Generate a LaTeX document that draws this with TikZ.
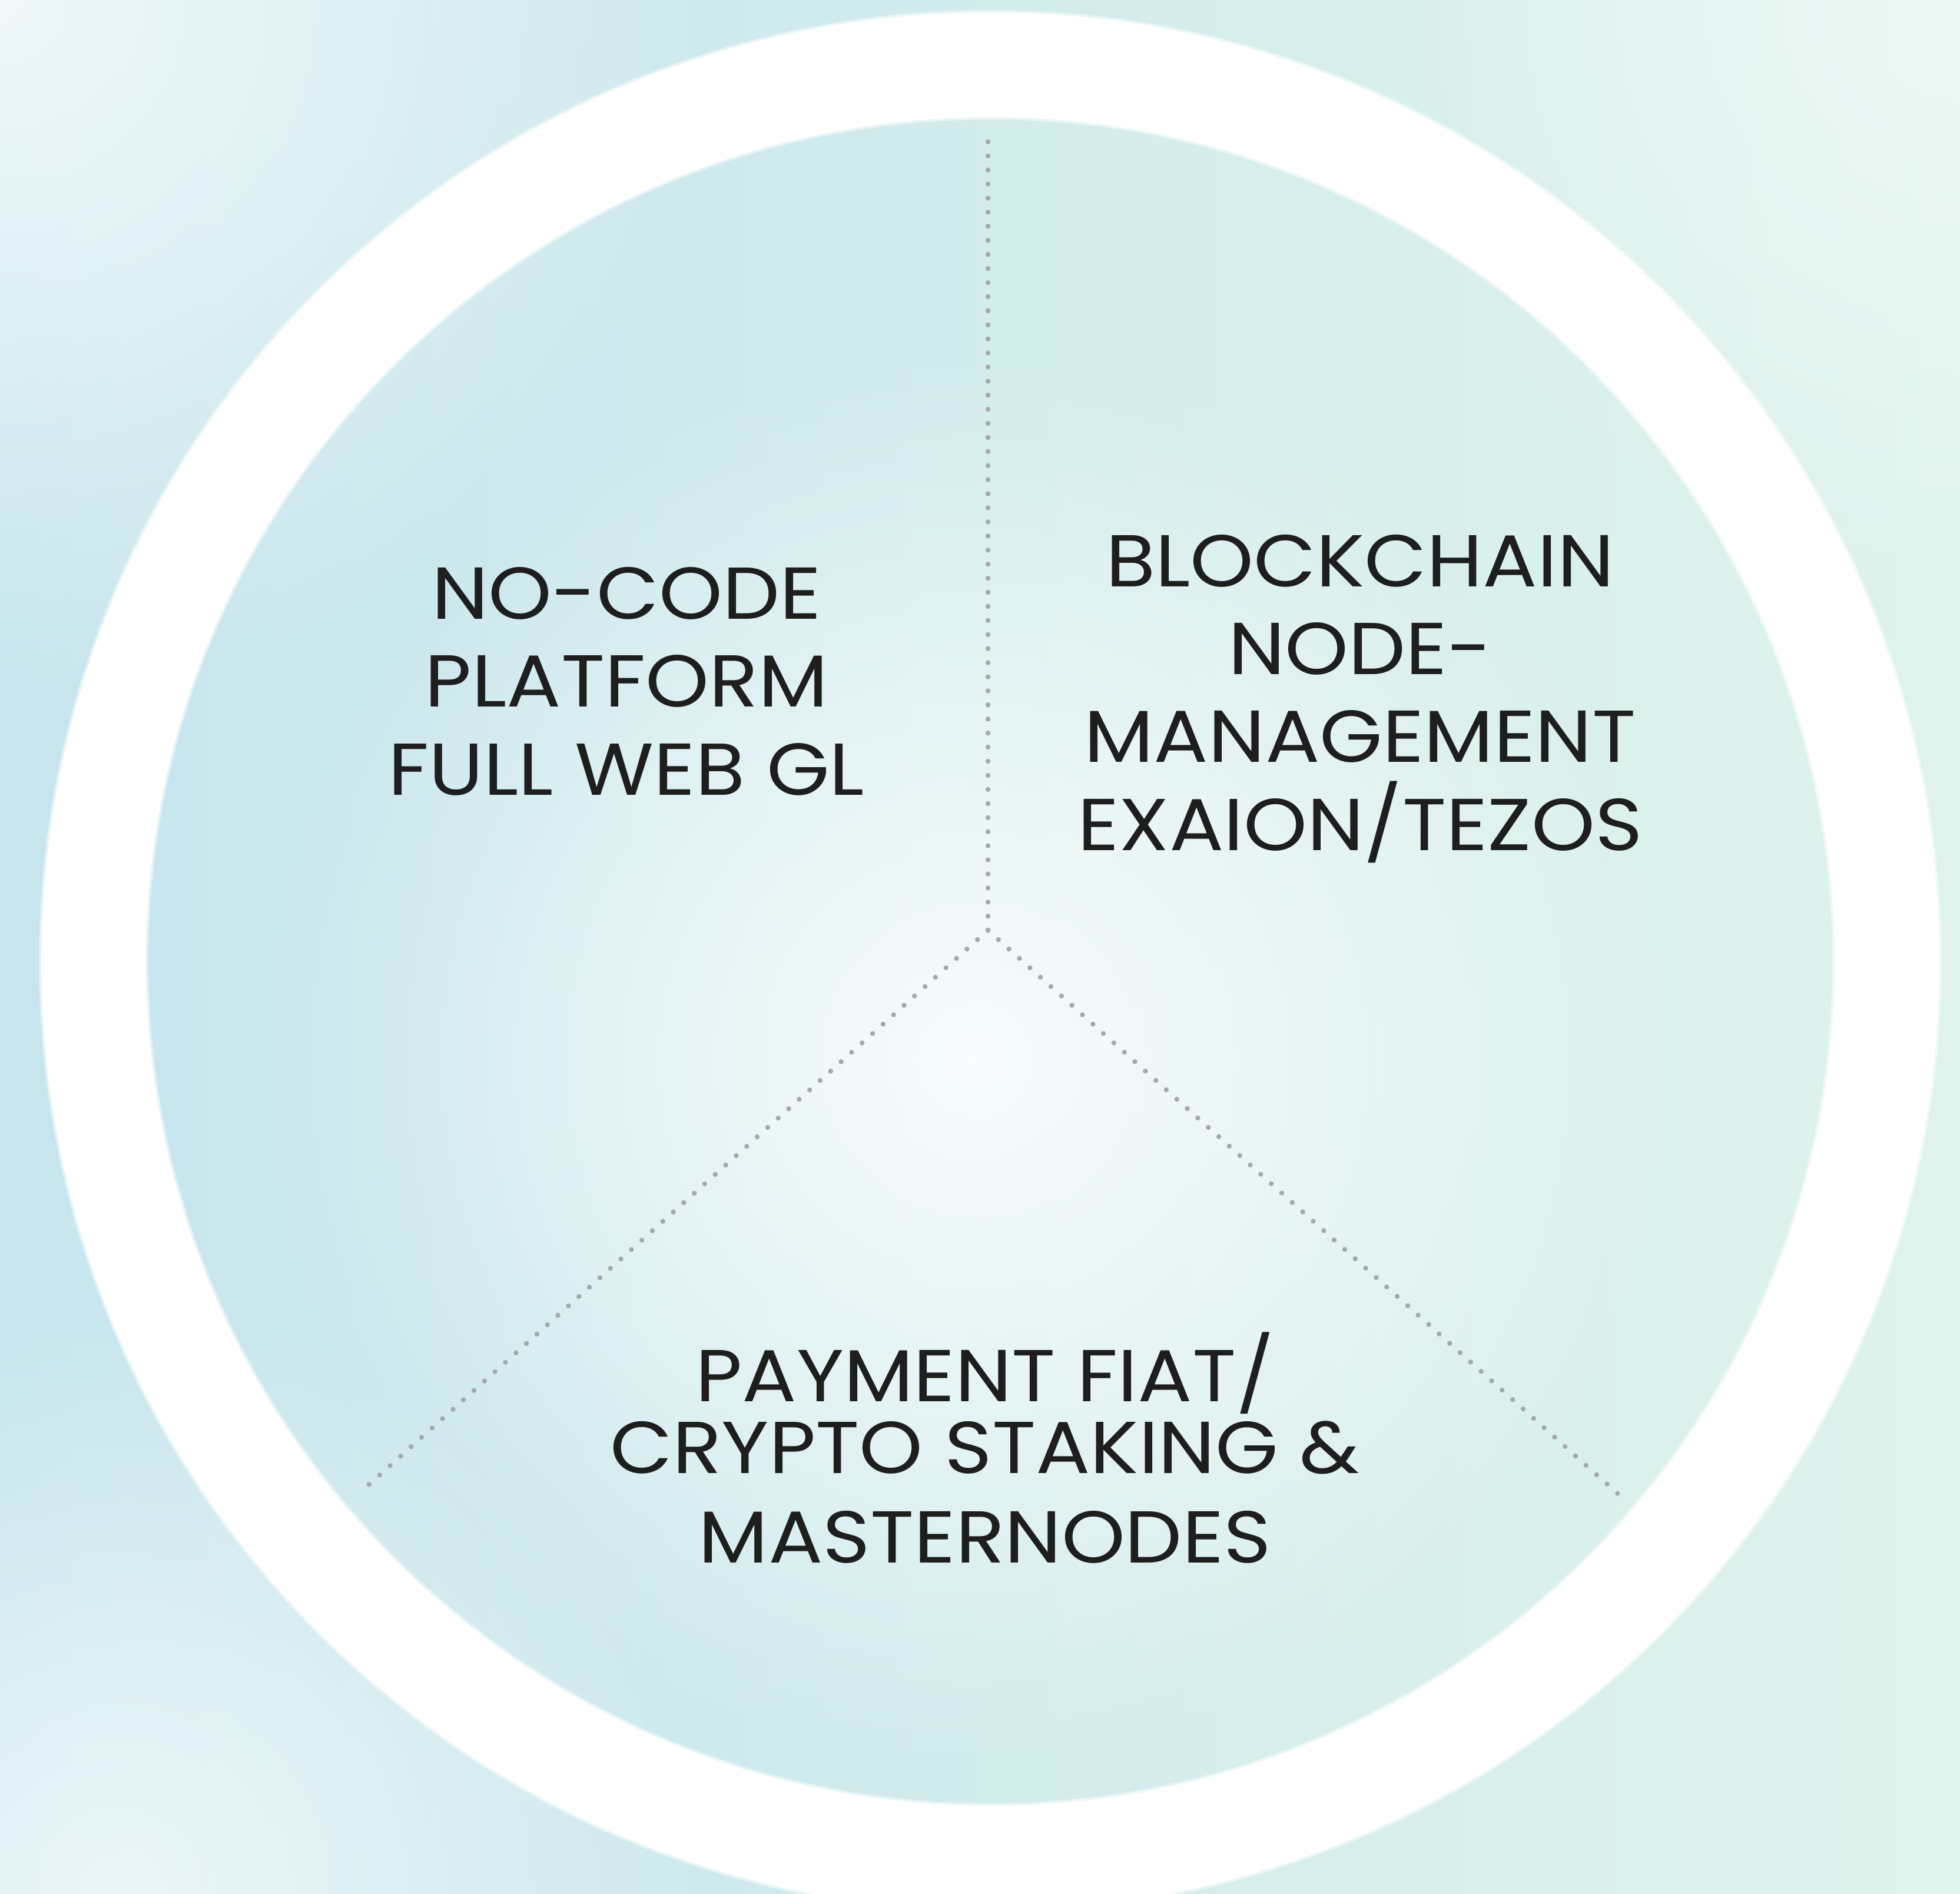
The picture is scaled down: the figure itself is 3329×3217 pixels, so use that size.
\documentclass[tikz,border=0pt]{standalone}
\usepackage{fontspec}
\setmainfont[FakeStretch=1.1]{Poppins}
\usepackage{xcolor}
\usetikzlibrary{fadings}

\definecolor{bgblue}{HTML}{C6E5ED}
\definecolor{bggreen}{HTML}{DFF3EC}
\definecolor{dotgray}{HTML}{A3A9AD}
\definecolor{inkdark}{HTML}{1E1E1E}
\tikzfading[name=glow,inner color=transparent!0,outer color=transparent!100]

\begin{document}
\begin{tikzpicture}[x=0.01cm,y=-0.01cm,
    label/.style={align=center,text=inkdark,font=\fontsize{35.5}{42.4}\selectfont,anchor=base,inner sep=0pt},
    spoke/.style={dotgray,line width=2.4pt,line cap=round,dash pattern=on 0pt off 6.8pt}]
    % Background
    \useasboundingbox (0,0) rectangle (3329,3217);
    \shade[left color=bgblue,right color=bggreen] (0,0) rectangle (3329,3217);
    \fill[white,path fading=glow,fill opacity=0.85] (1650,1800) circle (12cm);
    \fill[white,path fading=glow,fill opacity=0.75] (0,0) circle (12cm);
    \fill[white,path fading=glow,fill opacity=0.5] (3329,0) circle (10cm);
    \fill[white,path fading=glow,fill opacity=0.65] (200,3217) circle (10cm);

    % Ring
    \draw[white,opacity=0.5,line width=1.86cm] (1682,1633) circle (15.22cm);
    \draw[white,line width=1.78cm] (1682,1633) circle (15.22cm);

    % Spokes
    \coordinate (hub) at (1678,1580);
    \coordinate (topend) at (1678,234);
    \coordinate (leftend) at (616,2531);
    \coordinate (rightend) at (2760,2548);
    \draw[spoke] (hub) -- (topend);
    \draw[spoke] (hub) -- (leftend);
    \draw[spoke] (hub) -- (rightend);

    % Sectors (base = last line)
    \node[label] (nocode) at (1064,1350) {NO-CODE\\PLATFORM\\FULL WEB GL};
    \node[label] (blockchain) at (2310,1444) {BLOCKCHAIN\\NODE-\\MANAGEMENT\\EXAION/TEZOS};
    \node[label,font=\fontsize{35.5}{34.7}\selectfont] (payment) at (1673,2654) {PAYMENT FIAT/\\CRYPTO STAKING \&\\[8.5pt]MASTERNODES};
\end{tikzpicture}
\end{document}
